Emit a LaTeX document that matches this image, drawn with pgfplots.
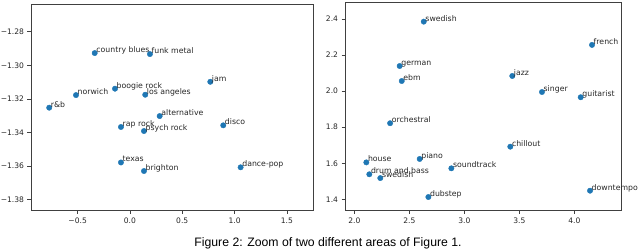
\documentclass[border=0pt]{standalone}
\usepackage{fontspec}
\setmainfont{Liberation Sans}
\newfontfamily\dejavu{DejaVu Sans}
\usepackage{pgfplots}
\pgfplotsset{compat=1.18}
\definecolor{mplblue}{HTML}{1F77B4}
\begin{document}
\begin{tikzpicture}[x=1bp,y=1bp]
\useasboundingbox (0,0) rectangle (640,-251);
\pgfplotsset{
  mystyle/.style={
    scale only axis,
    clip=false,
    tick align=outside,
    tick pos=left,
    major tick length=3.5bp,
    axis line style={black!75, line width=0.6bp},
    every tick/.style={black!75, line width=0.6bp},
    tick label style={font=\dejavu\fontsize{7.6}{9}\selectfont, text=black!85},
    xticklabel style={yshift=-0.5bp},
    point meta=explicit symbolic,
    nodes near coords,
    nodes near coords align={anchor=base west},
    every node near coord/.append style={font=\dejavu\fontsize{7.8}{9}\selectfont, text=black!85, inner sep=0pt, xshift=1.5bp, yshift=0.5bp},
  }
}
\begin{axis}[mystyle,
  at={(31bp,-210bp)}, anchor=south west,
  width=282bp, height=206bp,
  xmin=-0.946, xmax=1.75, ymin=-1.3861, ymax=-1.2635,
  xtick={-0.5,0,0.5,1,1.5},
  xticklabels={−0.5,0.0,0.5,1.0,1.5},
  ytick={-1.38,-1.36,-1.34,-1.32,-1.30,-1.28},
  yticklabels={−1.38,−1.36,−1.34,−1.32,−1.30,−1.28},
]
\addplot[only marks, mark=*, mark size=2.7bp, mplblue] coordinates {
  (-0.337,-1.2927) [country blues]
  (0.191,-1.2933) [funk metal]
  (0.768,-1.3098) [jam]
  (-0.143,-1.3139) [boogie rock]
  (-0.516,-1.3177) [norwich]
  (0.146,-1.3175) [los angeles]
  (-0.772,-1.3252) [r\&b]
  (0.284,-1.3302) [alternative]
  (-0.086,-1.3367) [rap rock]
  (0.134,-1.3391) [psych rock]
  (0.892,-1.3357) [disco]
  (-0.086,-1.3578) [texas]
  (0.134,-1.3629) [brighton]
  (1.058,-1.3607) [dance-pop]
};
\end{axis}
\begin{axis}[mystyle,
  at={(345bp,-210bp)}, anchor=south west,
  width=276.7bp, height=207.3bp,
  xmin=1.915, xmax=4.431, ymin=1.341, ymax=2.49,
  xtick={2,2.5,3,3.5,4},
  xticklabels={2.0,2.5,3.0,3.5,4.0},
  ytick={1.4,1.6,1.8,2.0,2.2,2.4},
  yticklabels={1.4,1.6,1.8,2.0,2.2,2.4},
]
\addplot[only marks, mark=*, mark size=2.7bp, mplblue] coordinates {
  (2.631,2.385) [swedish]
  (4.161,2.256) [french]
  (2.412,2.139) [german]
  (2.431,2.056) [ebm]
  (3.436,2.084) [jazz]
  (3.706,1.995) [singer]
  (4.058,1.966) [guitarist]
  (2.325,1.822) [orchestral]
  (3.418,1.692) [chillout]
  (2.594,1.624) [piano]
  (2.109,1.605) [house]
  (2.882,1.572) [soundtrack]
  (2.136,1.539) [drum and bass]
  (2.236,1.518) [swedish]
  (2.673,1.413) [dubstep]
  (4.143,1.448) [downtempo]
};
\end{axis}
\node[anchor=base, font=\fontsize{12.3}{14}\selectfont, inner sep=0pt] at (328,-246.5) {Figure 2: Zoom of two different areas of Figure 1.};
\end{tikzpicture}
\end{document}
